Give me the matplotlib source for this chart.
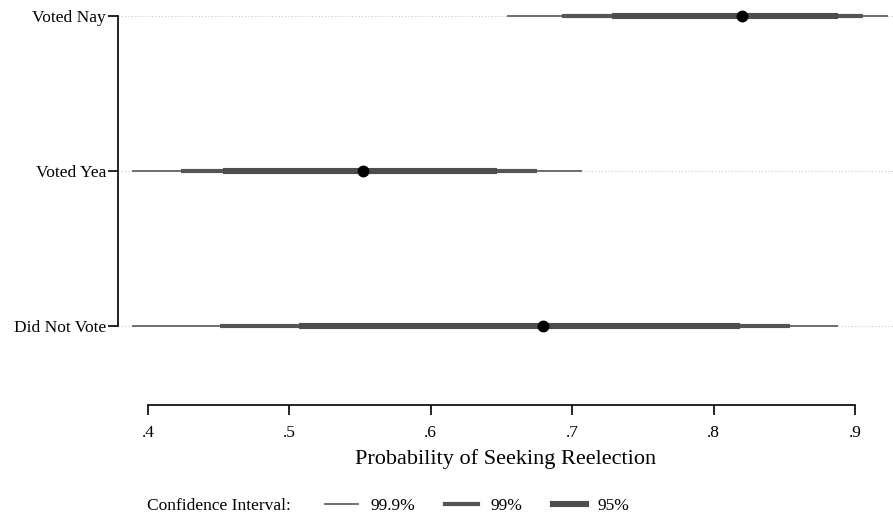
import numpy as np
import matplotlib.pyplot as plt
from matplotlib.lines import Line2D

plt.rcParams['font.family'] = ['Liberation Serif', 'DejaVu Serif']

groups = ['Did Not Vote', 'Voted Yea', 'Voted Nay']
est = [0.679, 0.552, 0.820]
ci999_lo = [0.389, 0.389, 0.654]
ci999_hi = [0.888, 0.707, 0.923]
ci99_lo = [0.451, 0.423, 0.693]
ci99_hi = [0.854, 0.675, 0.906]
ci95_lo = [0.507, 0.453, 0.728]
ci95_hi = [0.819, 0.647, 0.888]
xticks = [0.4, 0.5, 0.6, 0.7, 0.8, 0.9]
xticklabels = ['.4', '.5', '.6', '.7', '.8', '.9']

fig = plt.figure(figsize=(8.93, 5.16), dpi=100)
ax = fig.add_axes([118/893, 111/516, 775/893, 405/516])

ypos = np.arange(len(groups))
w_thin, w_mid, w_thick = 1.4, 3.0, 4.4
c_thin, c_mid, c_thick = '#6f6f6f', '#555555', '#4d4d4d'

for y in ypos:
    ax.axhline(y, color='#c8c8c8', lw=0.8, ls=(0, (1, 2)), zorder=0)

ax.hlines(ypos, ci999_lo, ci999_hi, color=c_thin, lw=w_thin, zorder=2)
ax.hlines(ypos, ci99_lo, ci99_hi, color=c_mid, lw=w_mid, zorder=3)
ax.hlines(ypos, ci95_lo, ci95_hi, color=c_thick, lw=w_thick, zorder=4)
ax.plot(est, ypos, 'o', color='black', ms=7.5, zorder=5)

ax.set_xlim(0.4 - 30/1414, 0.4 + 745/1414)
ax.set_ylim(-79/155, 2 + 16/155)

for s in ['top', 'right']:
    ax.spines[s].set_visible(False)
ax.spines['left'].set_bounds(0, 2)
ax.spines['bottom'].set_bounds(0.4, 0.9)
ax.spines['left'].set_linewidth(1.2)
ax.spines['bottom'].set_linewidth(1.2)

ax.set_yticks(ypos)
ax.set_yticklabels(groups, fontsize=12.5)
ax.set_xticks(xticks)
ax.set_xticklabels(xticklabels, fontsize=12.5)
ax.tick_params(axis='y', length=7, width=1.2, pad=1.5)
ax.tick_params(axis='x', length=7.5, width=1.2, pad=7)
ax.set_xlabel('Probability of Seeking Reelection', fontsize=16, labelpad=6)

fig.text(147/893, 1 - 506/516, 'Confidence Interval:', fontsize=12.5, va='center', ha='left')
handles = [Line2D([], [], color=c_thin, lw=w_thin),
           Line2D([], [], color=c_mid, lw=w_mid),
           Line2D([], [], color=c_thick, lw=w_thick)]
fig.legend(handles, ['99.9%', '99%', '95%'], loc='center left',
           bbox_to_anchor=(325/893, 1 - 506/516), ncol=3, frameon=False,
           fontsize=12.5, handlelength=1.9, handletextpad=0.7,
           columnspacing=1.75, borderaxespad=0, borderpad=0)

fig.savefig('out.png', dpi=100)
